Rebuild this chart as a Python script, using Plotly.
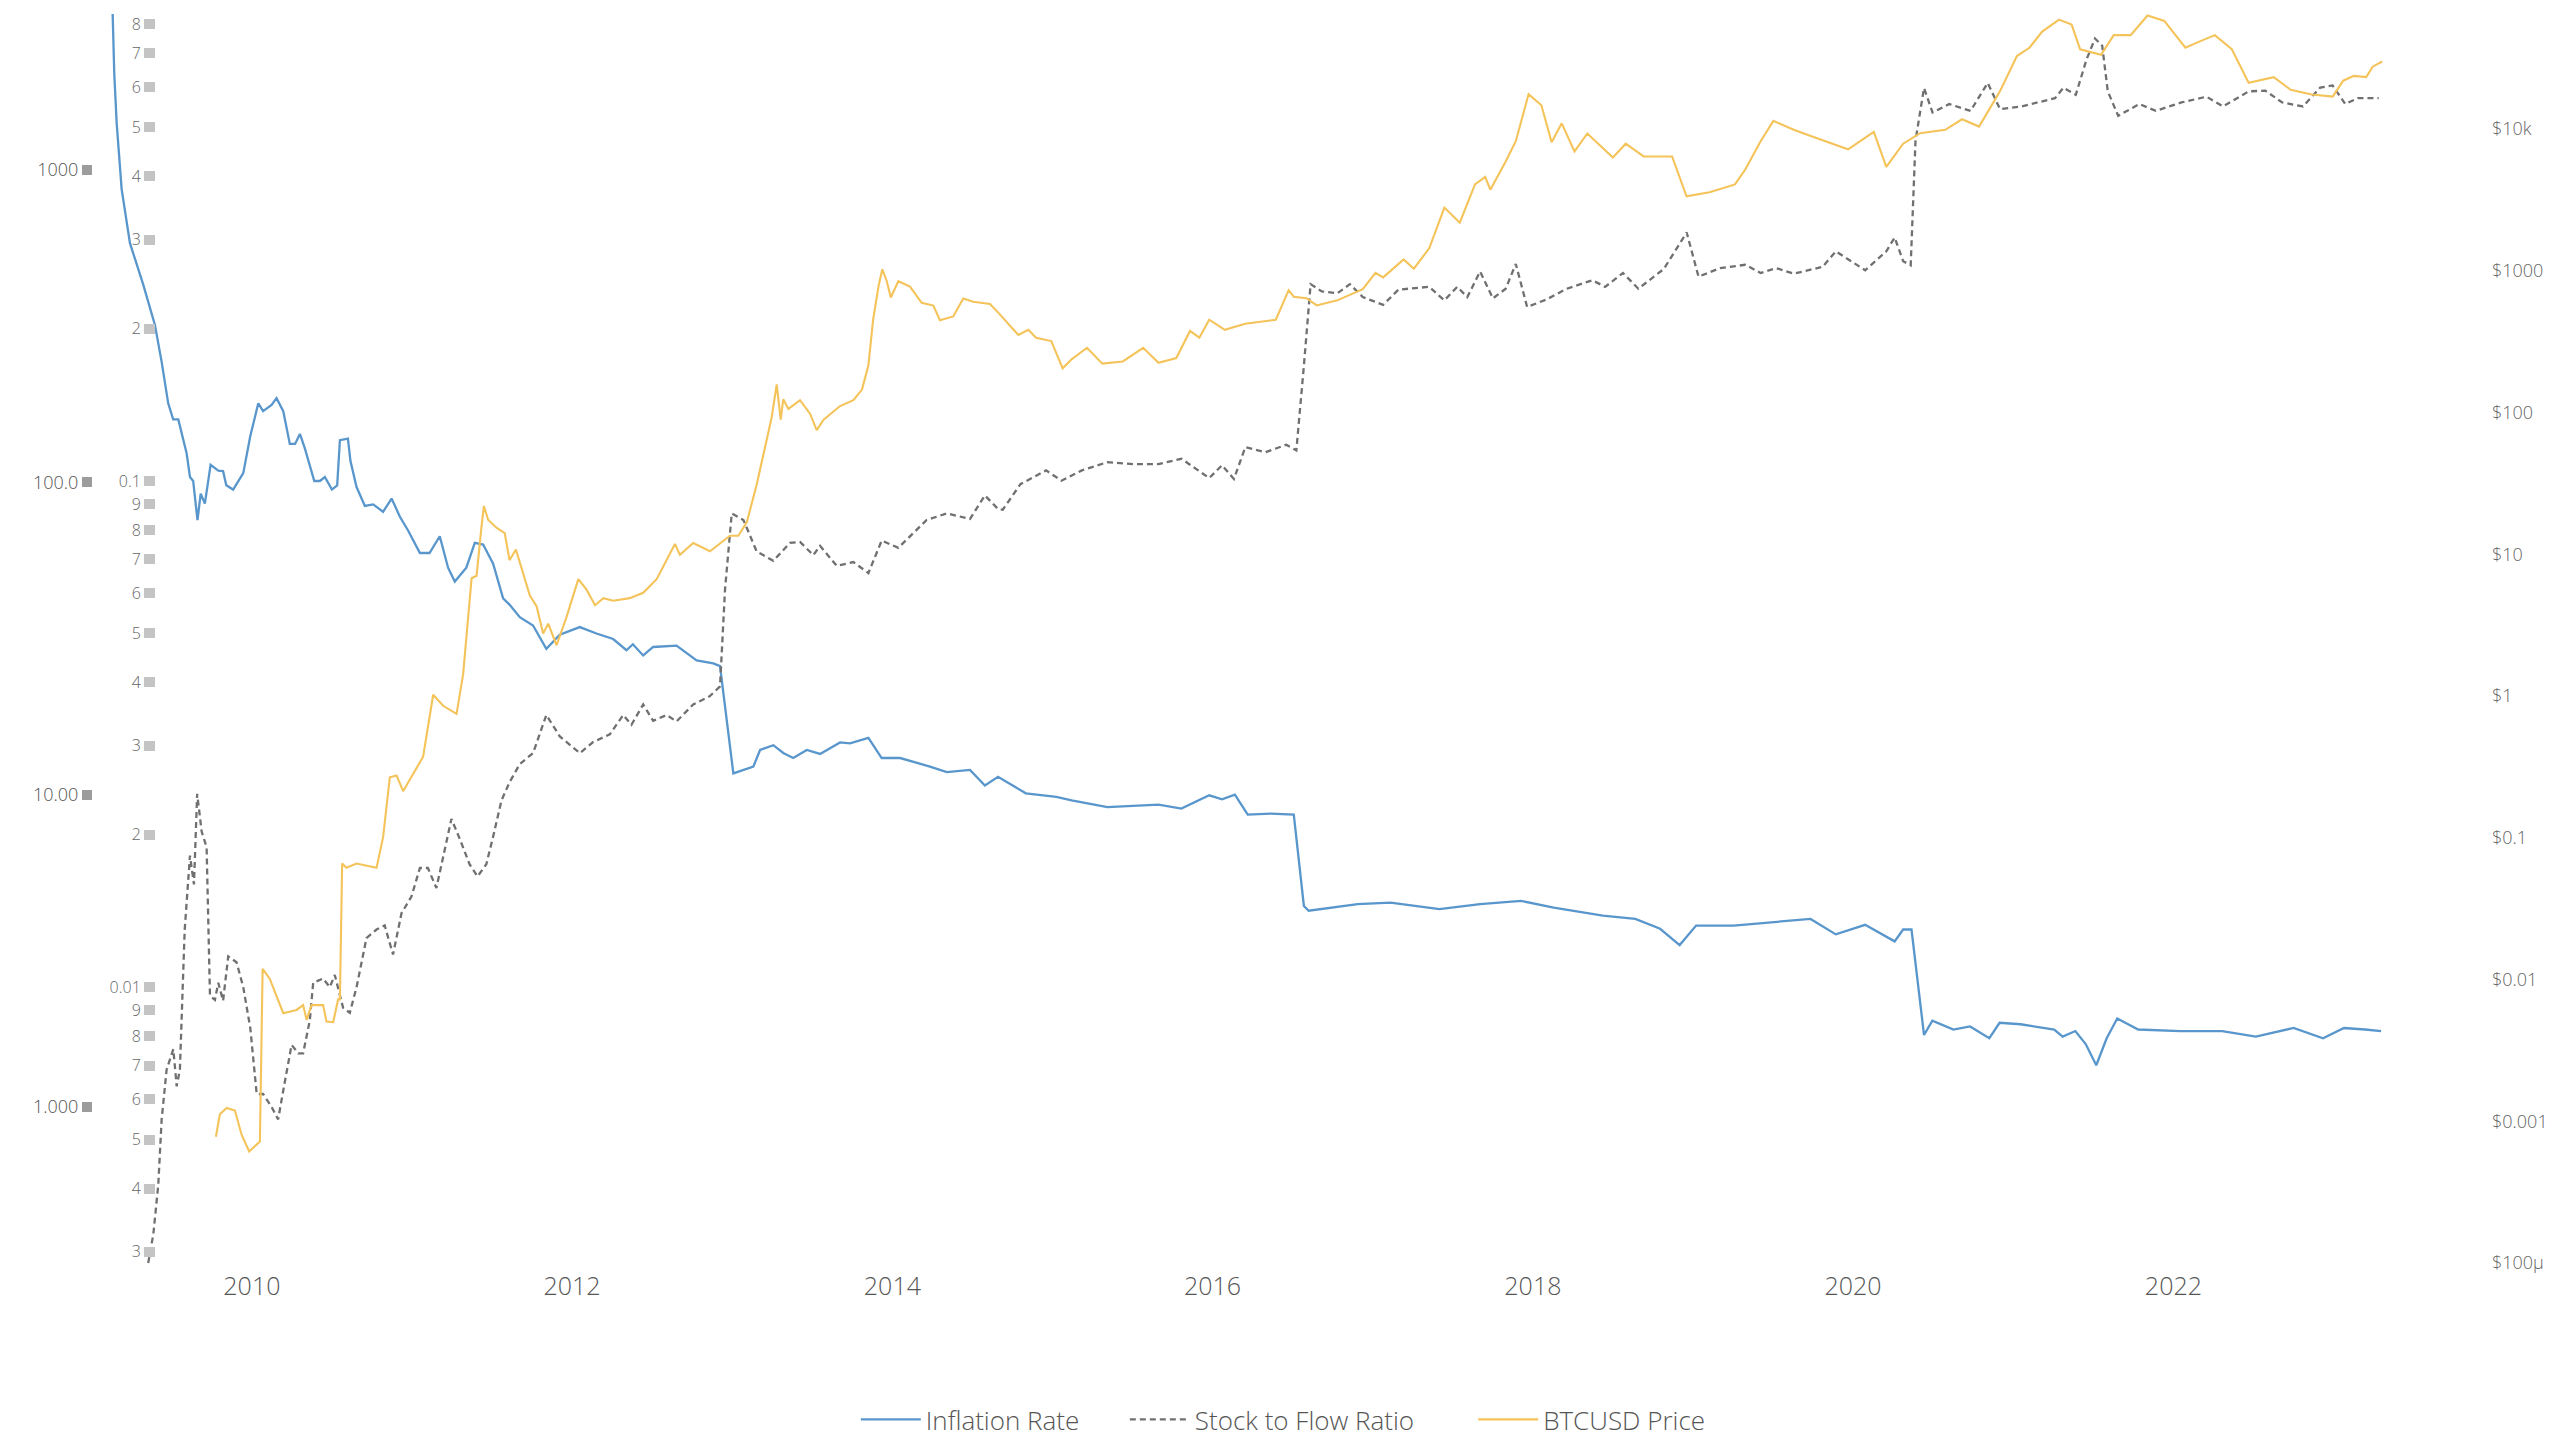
import numpy as np
import pandas as pd
import plotly.graph_objects as go

# ---------------- data (decimal years) ----------------
infl_t = [2009.10, 2009.13, 2009.14, 2009.155, 2009.186, 2009.238, 2009.32, 2009.394, 2009.436, 2009.477,
          2009.508, 2009.54, 2009.592, 2009.613, 2009.633, 2009.66, 2009.68, 2009.706, 2009.742, 2009.79,
          2009.82, 2009.84, 2009.883, 2009.946, 2009.99, 2010.04, 2010.07, 2010.123, 2010.154, 2010.196,
          2010.237, 2010.27, 2010.30, 2010.33, 2010.39, 2010.425, 2010.456, 2010.50, 2010.533, 2010.55,
          2010.60, 2010.616, 2010.654, 2010.706, 2010.758, 2010.82, 2010.873, 2010.925, 2010.977, 2011.05,
          2011.11, 2011.174, 2011.226, 2011.268, 2011.34, 2011.393, 2011.445, 2011.507, 2011.57, 2011.61,
          2011.674, 2011.757, 2011.84, 2011.924, 2012.049, 2012.153, 2012.257, 2012.34, 2012.38, 2012.444,
          2012.506, 2012.652, 2012.777, 2012.881, 2012.923, 2013.006, 2013.131, 2013.173, 2013.256, 2013.318,
          2013.38, 2013.465, 2013.548, 2013.673, 2013.735, 2013.85, 2013.933, 2014.048, 2014.235, 2014.34,
          2014.485, 2014.578, 2014.66, 2014.834, 2015.025, 2015.12, 2015.344, 2015.663, 2015.806, 2015.98,
          2016.06, 2016.14, 2016.22, 2016.363, 2016.507, 2016.57, 2016.60, 2016.905, 2017.11, 2017.416,
          2017.67, 2017.926, 2018.13, 2018.437, 2018.64, 2018.795, 2018.917, 2019.02, 2019.254, 2019.46,
          2019.524, 2019.735, 2019.893, 2020.076, 2020.26, 2020.313, 2020.365, 2020.443, 2020.495, 2020.626,
          2020.73, 2020.85, 2020.914, 2021.045, 2021.255, 2021.308, 2021.387, 2021.452, 2021.518, 2021.583,
          2021.649, 2021.78, 2022.043, 2022.305, 2022.515, 2022.751, 2022.935, 2023.066, 2023.197, 2023.298]
infl_v = [4500, 3140, 2030, 1413, 869, 583, 431, 319, 243, 179,
          159, 159, 124, 104, 101, 75.7, 92, 85.5, 113.7, 109,
          108.6, 97.8, 94.8, 107, 140.7, 179, 169, 177, 186, 169,
          132.7, 132.7, 142.9, 128.9, 101, 101, 104, 94.8, 97.8, 136.5,
          138, 117, 96.6, 84, 85, 80.5, 88.7, 77.6, 70, 59.4,
          59.4, 67.2, 53.3, 48.1, 53.3, 64, 63.2, 55, 42.5, 40.6,
          37, 34.8, 29.3, 32.5, 34.4, 32.8, 31.5, 29, 30.3, 27.9,
          29.7, 30, 26.9, 26.3, 25.8, 11.7, 12.3, 13.9, 14.4, 13.6,
          13.1, 13.9, 13.5, 14.7, 14.6, 15.2, 13.1, 13.1, 12.3, 11.8,
          12.0, 10.7, 11.4, 10.1, 9.84, 9.58, 9.12, 9.29, 9.02, 9.95,
          9.66, 10.0, 8.63, 8.7, 8.63, 4.4, 4.25, 4.46, 4.51, 4.30,
          4.46, 4.57, 4.35, 4.10, 4.0, 3.72, 3.30, 3.81, 3.81, 3.89,
          3.91, 4.0, 3.57, 3.83, 3.39, 3.7, 3.7, 1.70, 1.89, 1.77,
          1.81, 1.66, 1.86, 1.84, 1.77, 1.68, 1.75, 1.59, 1.36, 1.66,
          1.92, 1.77, 1.75, 1.75, 1.68, 1.79, 1.66, 1.79, 1.77, 1.75]

s2f_t = [2009.352, 2009.384, 2009.415, 2009.436, 2009.467, 2009.509, 2009.53, 2009.55, 2009.58, 2009.613,
         2009.638, 2009.658, 2009.686, 2009.717, 2009.738, 2009.769, 2009.79, 2009.82, 2009.852, 2009.904,
         2009.946, 2009.99, 2010.03, 2010.07, 2010.123, 2010.164, 2010.196, 2010.248, 2010.29, 2010.32,
         2010.362, 2010.383, 2010.445, 2010.487, 2010.518, 2010.57, 2010.612, 2010.654, 2010.716, 2010.779,
         2010.83, 2010.882, 2010.935, 2010.997, 2011.05, 2011.10, 2011.153, 2011.195, 2011.247, 2011.30,
         2011.36, 2011.41, 2011.465, 2011.507, 2011.56, 2011.61, 2011.674, 2011.757, 2011.84, 2011.924,
         2012.049, 2012.132, 2012.236, 2012.32, 2012.371, 2012.444, 2012.506, 2012.59, 2012.652, 2012.756,
         2012.86, 2012.923, 2012.954, 2012.996, 2013.069, 2013.152, 2013.256, 2013.36, 2013.423, 2013.506,
         2013.548, 2013.652, 2013.756, 2013.85, 2013.933, 2014.037, 2014.141, 2014.214, 2014.34, 2014.485,
         2014.578, 2014.66, 2014.69, 2014.80, 2014.96, 2015.057, 2015.184, 2015.344, 2015.503, 2015.663,
         2015.806, 2015.98, 2016.06, 2016.134, 2016.205, 2016.33, 2016.46, 2016.523, 2016.57, 2016.612,
         2016.682, 2016.778, 2016.857, 2016.937, 2017.064, 2017.16, 2017.352, 2017.447, 2017.527, 2017.59,
         2017.67, 2017.75, 2017.83, 2017.893, 2017.964, 2018.085, 2018.212, 2018.372, 2018.451, 2018.563,
         2018.659, 2018.818, 2018.961, 2019.035, 2019.169, 2019.328, 2019.423, 2019.52, 2019.63, 2019.81,
         2019.893, 2020.076, 2020.208, 2020.26, 2020.313, 2020.36, 2020.39, 2020.443, 2020.496, 2020.60,
         2020.733, 2020.84, 2020.917, 2021.05, 2021.26, 2021.313, 2021.39, 2021.457, 2021.51, 2021.555,
         2021.59, 2021.655, 2021.787, 2021.89, 2022.05, 2022.207, 2022.31, 2022.47, 2022.574, 2022.68,
         2022.81, 2022.917, 2022.995, 2023.074, 2023.153, 2023.283]
s2f_v = [0.00285, 0.00325, 0.00407, 0.00548, 0.00687, 0.00754, 0.00637, 0.00687, 0.01297, 0.0182,
         0.01596, 0.0241, 0.0203, 0.0189, 0.00962, 0.00944, 0.0102, 0.0094, 0.0115, 0.0112,
         0.0100, 0.0083, 0.00615, 0.00615, 0.0058, 0.00548, 0.00625, 0.00769, 0.0074, 0.0074,
         0.0086, 0.0102, 0.0104, 0.0100, 0.01057, 0.0091, 0.0089, 0.0100, 0.0125, 0.0130,
         0.01324, 0.0116, 0.0140, 0.0151, 0.0172, 0.0172, 0.0157, 0.0182, 0.0215, 0.0196,
         0.0175, 0.01655, 0.0175, 0.0198, 0.0234, 0.0254, 0.0276, 0.029, 0.0345, 0.0313,
         0.029, 0.0305, 0.0316, 0.0345, 0.033, 0.0362, 0.0336, 0.0345, 0.0335, 0.0362,
         0.0376, 0.0393, 0.061, 0.0863, 0.0838, 0.0726, 0.0696, 0.0755, 0.0758, 0.0714,
         0.0745, 0.0680, 0.0692, 0.0658, 0.0763, 0.0738, 0.0794, 0.0838, 0.0863, 0.0842,
         0.0937, 0.0881, 0.0878, 0.0986, 0.105, 0.1002, 0.105, 0.109, 0.108, 0.108,
         0.1107, 0.1014, 0.1075, 0.101, 0.1167, 0.114, 0.118, 0.115, 0.169, 0.245,
         0.237, 0.235, 0.245, 0.231, 0.223, 0.239, 0.242, 0.2276, 0.242, 0.231,
         0.2595, 0.2296, 0.24, 0.2686, 0.2208, 0.2285, 0.24, 0.2494, 0.242, 0.2577,
         0.24, 0.2625, 0.31, 0.2535, 0.2635, 0.2676, 0.2577, 0.2636, 0.257, 0.265,
         0.2844, 0.261, 0.2844, 0.303, 0.272, 0.267, 0.471, 0.598, 0.535, 0.556,
         0.539, 0.612, 0.543, 0.55, 0.571, 0.599, 0.58, 0.681, 0.749, 0.725,
         0.589, 0.527, 0.556, 0.539, 0.56, 0.575, 0.55, 0.589, 0.591, 0.56,
         0.55, 0.599, 0.605, 0.556, 0.571, 0.571]

btc_t = [2009.775, 2009.80, 2009.842, 2009.894, 2009.936, 2009.983, 2010.05, 2010.067, 2010.112, 2010.196,
         2010.279, 2010.32, 2010.342, 2010.373, 2010.445, 2010.466, 2010.508, 2010.539, 2010.55, 2010.564,
         2010.59, 2010.654, 2010.779, 2010.82, 2010.862, 2010.904, 2010.945, 2011.07, 2011.133, 2011.195,
         2011.279, 2011.32, 2011.373, 2011.404, 2011.435, 2011.45, 2011.476, 2011.528, 2011.58, 2011.61,
         2011.65, 2011.695, 2011.737, 2011.779, 2011.82, 2011.852, 2011.904, 2011.966, 2012.04, 2012.092,
         2012.144, 2012.196, 2012.257, 2012.36, 2012.444, 2012.528, 2012.59, 2012.642, 2012.673, 2012.756,
         2012.86, 2012.985, 2013.037, 2013.09, 2013.152, 2013.214, 2013.246, 2013.277, 2013.302, 2013.318,
         2013.35, 2013.423, 2013.486, 2013.527, 2013.57, 2013.673, 2013.756, 2013.81, 2013.85, 2013.88,
         2013.913, 2013.937, 2013.965, 2013.99, 2014.037, 2014.11, 2014.183, 2014.256, 2014.297, 2014.38,
         2014.443, 2014.505, 2014.61, 2014.67, 2014.787, 2014.85, 2014.898, 2014.993, 2015.064, 2015.12,
         2015.216, 2015.312, 2015.44, 2015.567, 2015.663, 2015.774, 2015.86, 2015.918, 2015.98, 2016.077,
         2016.204, 2016.395, 2016.475, 2016.507, 2016.586, 2016.65, 2016.778, 2016.937, 2017.016, 2017.064,
         2017.192, 2017.256, 2017.352, 2017.447, 2017.543, 2017.638, 2017.702, 2017.734, 2017.83, 2017.893,
         2017.973, 2018.053, 2018.117, 2018.18, 2018.26, 2018.34, 2018.5, 2018.58, 2018.692, 2018.87,
         2018.96, 2019.104, 2019.263, 2019.328, 2019.423, 2019.503, 2019.63, 2019.81, 2019.97, 2020.13,
         2020.208, 2020.313, 2020.418, 2020.575, 2020.68, 2020.786, 2020.917, 2021.022, 2021.1, 2021.18,
         2021.285, 2021.364, 2021.417, 2021.548, 2021.627, 2021.733, 2021.838, 2021.943, 2022.075, 2022.154,
         2022.259, 2022.365, 2022.47, 2022.627, 2022.733, 2022.864, 2022.996, 2023.061, 2023.127, 2023.205,
         2023.245, 2023.305]
btc_v = [0.000778, 0.00112, 0.00124, 0.00119, 0.0008, 0.000612, 0.00072, 0.0119, 0.0101, 0.00578,
         0.0061, 0.0066, 0.00519, 0.0066, 0.0066, 0.00506, 0.0050, 0.00724, 0.00724, 0.0658,
         0.0614, 0.0658, 0.0614, 0.101, 0.267, 0.275, 0.213, 0.373, 1.02, 0.853,
         0.748, 1.42, 6.77, 7.05, 15.7, 21.9, 17.5, 15.4, 14.1, 9.08,
         10.8, 7.28, 5.12, 4.3, 2.76, 3.24, 2.28, 3.6, 6.67, 5.6,
         4.37, 4.9, 4.7, 4.9, 5.35, 6.67, 9.08, 11.8, 9.9, 12.0,
         10.5, 13.5, 13.5, 16.8, 31, 65.6, 93, 158, 89, 124,
         106, 122, 97.7, 75, 89, 111, 122, 145, 215, 456,
         773, 1024, 843, 647, 843, 773, 593, 568, 448, 476,
         637, 604, 582, 494, 352, 383, 337, 319, 205, 237,
         286, 221, 229, 286, 224, 242, 376, 337, 451, 383,
         423, 451, 729, 656, 640, 569, 618, 741, 966, 897,
         1200, 1033, 1440, 2790, 2180, 4060, 4590, 3730, 5890, 8200,
         17600, 14700, 8070, 10960, 6950, 9290, 6290, 7870, 6400, 6400,
         3350, 3580, 4060, 5200, 8200, 11400, 9870, 8320, 7180, 9540,
         5400, 7870, 9330, 9870, 11700, 10400, 18500, 32700, 37400, 48600,
         59100, 54500, 36500, 33400, 45900, 45900, 63200, 57800, 37400, 41000,
         45900, 36500, 21200, 23200, 18900, 17500, 16900, 21900, 23700, 23200,
         27500, 29900]

# axis tick labels
infl_tickvals = [1, 10, 100, 1000]
infl_ticktext = ["1.000", "10.00", "100.0", "1000"]
s2f_tickvals = [0.003, 0.004, 0.005, 0.006, 0.007, 0.008, 0.009, 0.01,
                0.02, 0.03, 0.04, 0.05, 0.06, 0.07, 0.08, 0.09, 0.1,
                0.2, 0.3, 0.4, 0.5, 0.6, 0.7, 0.8]
s2f_ticktext = ["3", "4", "5", "6", "7", "8", "9", "0.01",
                "2", "3", "4", "5", "6", "7", "8", "9", "0.1",
                "2", "3", "4", "5", "6", "7", "8"]
btc_tickvals = [1e-4, 1e-3, 1e-2, 1e-1, 1, 10, 100, 1000, 10000]
btc_ticktext = ["$100µ", "$0.001", "$0.01", "$0.1", "$1", "$10", "$100", "$1000", "$10k"]

series_names = ["Inflation Rate", "Stock to Flow Ratio", "BTCUSD Price"]


def to_date(y):
    yr = int(np.floor(y))
    start = pd.Timestamp(year=yr, month=1, day=1)
    end = pd.Timestamp(year=yr + 1, month=1, day=1)
    return start + (end - start) * (y - yr)


def dates(ts):
    return [to_date(t) for t in ts]


NB = "\u00a0"
FONT = "Open Sans, Noto Sans, sans-serif"
BLUE = "#5896cc"
GOLD = "#f4c35a"
GRAY = "#707070"

fig = go.Figure()
fig.add_trace(go.Scatter(x=dates(infl_t), y=infl_v, name=series_names[0] + NB * 6, mode="lines",
                         line=dict(color=BLUE, width=2.3), yaxis="y"))
fig.add_trace(go.Scatter(x=dates(s2f_t), y=s2f_v, name=series_names[1] + NB * 8, mode="lines",
                         line=dict(color=GRAY, width=2.3, dash="6px,4px"), yaxis="y2"))
fig.add_trace(go.Scatter(x=dates(btc_t), y=btc_v, name=series_names[2], mode="lines",
                         line=dict(color=GOLD, width=2.1), yaxis="y3"))

fig.update_layout(
    width=2566, height=1444,
    margin=dict(l=93, r=78, t=14, b=179, autoexpand=False),
    paper_bgcolor="white", plot_bgcolor="white",
    font=dict(family=FONT, color="#555"),
    showlegend=True,
    legend=dict(orientation="h", x=0.497, xanchor="center", y=-0.1235, yanchor="middle",
                font=dict(size=26, color="#555", family=FONT, weight=300), itemwidth=60,
                bgcolor="rgba(0,0,0,0)"),
    xaxis=dict(type="date", range=[to_date(2009.007), to_date(2023.966)], domain=[0, 1],
               dtick="M24", tickformat="%Y", showgrid=False, zeroline=False, showline=False,
               ticks="", ticklabelstandoff=4,
               tickfont=dict(size=25, color="#555", family=FONT, weight=300), automargin=False),
    yaxis=dict(type="log", range=[-0.506, 3.4995], tickmode="array", tickvals=infl_tickvals,
               ticktext=infl_ticktext, ticks="outside", ticklen=10, tickwidth=10, tickcolor="#9c9c9c",
               showgrid=False, zeroline=False, showline=False,
               tickfont=dict(size=18, color="#555", family=FONT, weight=300), automargin=False),
    yaxis2=dict(type="log", range=[-2.549, -0.077], overlaying="y", anchor="free", position=0.0259,
                side="left", tickmode="array", tickvals=s2f_tickvals, ticktext=s2f_ticktext,
                ticks="outside", ticklen=11, tickwidth=10, tickcolor="#c4c4c4",
                showgrid=False, zeroline=False, showline=False,
                tickfont=dict(size=16, color="#666", family=FONT, weight=300), automargin=False),
    yaxis3=dict(type="log", range=[-4.014, 4.811], overlaying="y", anchor="free", position=1.0,
                side="right", tickmode="array", tickvals=btc_tickvals, ticktext=btc_ticktext,
                ticks="", ticklabelstandoff=3, showgrid=False, zeroline=False, showline=False,
                tickfont=dict(size=18, color="#666", family=FONT, weight=300), automargin=False),
)

fig.write_html("out.html", config={"displayModeBar": False},
               post_script="document.body.style.margin='0';")
